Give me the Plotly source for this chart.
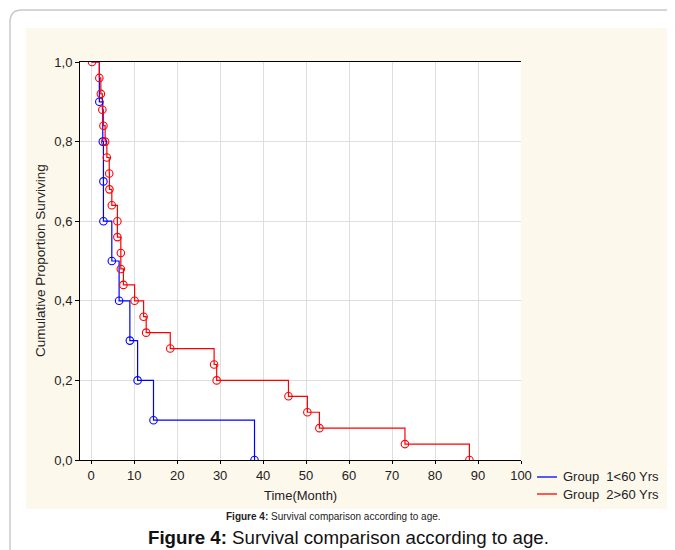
import plotly.graph_objects as go

# ---- data ----
g1_name = "Group\u00a0 1&lt;60 Yrs"
g1_time = [0, 1.9, 2.7, 2.85, 2.85, 4.8, 6.5, 9.0, 10.8, 14.5, 38.0]
g1_surv = [1.0, 0.9, 0.8, 0.7, 0.6, 0.5, 0.4, 0.3, 0.2, 0.1, 0.0]

g2_name = "Group\u00a0 2&gt;60 Yrs"
g2_time = [0.2, 1.9, 2.25, 2.6, 2.85, 3.25, 3.65, 4.2, 4.25, 4.8, 6.1, 6.1, 6.9, 6.9,
           7.5, 10.1, 12.2, 12.8, 18.4, 28.6, 29.2, 45.9, 50.3, 53.1, 73.0, 88.0]
g2_surv = [1.0, 0.96, 0.92, 0.88, 0.84, 0.80, 0.76, 0.72, 0.68, 0.64, 0.60, 0.56, 0.52, 0.48,
           0.44, 0.40, 0.36, 0.32, 0.28, 0.24, 0.20, 0.16, 0.12, 0.08, 0.04, 0.0]

x_ticks = [0, 10, 20, 30, 40, 50, 60, 70, 80, 90, 100]
y_ticks = [0.0, 0.2, 0.4, 0.6, 0.8, 1.0]
y_ticktext = ["0,0", "0,2", "0,4", "0,6", "0,8", "1,0"]
right_ticks = [0.16, 0.32, 0.48, 0.64, 0.80, 0.96]

x_title = "Time(Month)"
y_title = "Cumulative Proportion Surviving"
small_caption = "<b>Figure 4:</b> Survival comparison according to age."
big_caption = "<b>Figure 4:</b> Survival comparison according to age."

BLUE = "#0000FF"
RED = "#FF0000"
FONT = "Liberation Sans, Arial, sans-serif"

# the page body has an 8px margin; work in page pixels and shift
OFF = 8
W, H = 675 - OFF, 550 - OFF
L, R, T, B = 80 - OFF, 521 - OFF, 62 - OFF, 460 - OFF


def px(x):
    """page x pixel -> paper coordinate"""
    return (x - OFF - L) / (R - L)


def py(y):
    """page y pixel -> paper coordinate"""
    return (B - (y - OFF)) / (B - T)


fig = go.Figure()

fig.add_trace(go.Scatter(x=g1_time, y=g1_surv, mode="lines", line=dict(color=BLUE, width=1.2, shape="hv"),
                         name=g1_name, showlegend=False))
fig.add_trace(go.Scatter(x=g2_time, y=g2_surv, mode="lines", line=dict(color=RED, width=1.2, shape="hv"),
                         name=g2_name, showlegend=False))
fig.add_trace(go.Scatter(x=g1_time[1:], y=g1_surv[1:], mode="markers", showlegend=False, cliponaxis=True,
                         marker=dict(symbol="circle-open", size=7.5, color=BLUE, line=dict(width=1.1, color=BLUE))))
fig.add_trace(go.Scatter(x=g2_time, y=g2_surv, mode="markers", showlegend=False, cliponaxis=True,
                         marker=dict(symbol="circle-open", size=7.5, color=RED, line=dict(width=1.1, color=RED))))

shapes = [
    # outer page frame with rounded corner
    dict(type="path", xref="paper", yref="paper", layer="below",
         path=f"M {px(10)},{py(600)} L {px(10)},{py(22)} Q {px(10)},{py(10)} {px(22)},{py(10)} L {px(700)},{py(10)}",
         line=dict(color="#c9c9c9", width=1.5)),
    # cream panel
    dict(type="rect", xref="paper", yref="paper", layer="below",
         x0=px(26), x1=px(669), y0=py(509), y1=py(28),
         fillcolor="#FDF8EC", line=dict(width=0)),
    # white plot area
    dict(type="rect", xref="paper", yref="paper", layer="below",
         x0=0, x1=1, y0=0, y1=1, fillcolor="white", line=dict(width=0)),
]

# legend (sample lines + labels)
legend_items = [(g1_name, BLUE, 477), (g2_name, RED, 494)]
for _, color, yy in legend_items:
    shapes.append(dict(type="line", xref="paper", yref="paper", x0=px(537), x1=px(557), y0=py(yy), y1=py(yy),
                       line=dict(color=color, width=1.3)))


def ann(text, x, y, size, angle=0, color="#222", xanchor="center"):
    return dict(text=text, xref="paper", yref="paper", x=px(x), y=py(y), showarrow=False,
                xanchor=xanchor, yanchor="middle", textangle=angle,
                font=dict(family=FONT, size=size, color=color))


annotations = [
    ann(x_title, 300, 495, 13),
    ann(y_title, 40, 261, 13.5, angle=-90),
    ann(small_caption, 333, 516, 10),
    ann(big_caption, 348, 537, 18.7, color="#111"),
]
for name, _, yy in legend_items:
    annotations.append(ann(name, 561, yy, 13, xanchor="left"))

fig.update_layout(
    width=W, height=H,
    margin=dict(l=L, r=W - R, t=T, b=H - B, pad=0),
    paper_bgcolor="white", plot_bgcolor="white",
    font=dict(family=FONT, size=13, color="#222"),
    shapes=shapes, annotations=annotations,
    showlegend=False,
    xaxis=dict(range=[-2.6, 100], tickvals=x_ticks, ticks="outside", ticklen=3, tickcolor="#000",
               showgrid=True, gridcolor="#dedede", gridwidth=1, zeroline=False,
               showline=True, linecolor="#000", linewidth=1, mirror=True,
               tickfont=dict(family=FONT, size=13, color="#222")),
    yaxis=dict(range=[0, 1], tickvals=y_ticks, ticktext=y_ticktext, ticks="outside", ticklen=4,
               tickcolor="#000", showgrid=True, gridcolor="#dedede", gridwidth=1, zeroline=False,
               showline=True, linecolor="#000", linewidth=1,
               tickfont=dict(family=FONT, size=13, color="#222")),
    yaxis2=dict(range=[0, 1], overlaying="y", side="right", tickvals=right_ticks, ticks="inside",
                ticklen=4, tickcolor="#333", showticklabels=False, showgrid=False, zeroline=False,
                showline=True, linecolor="#707070", linewidth=2),
)

fig.write_html("out.html")
